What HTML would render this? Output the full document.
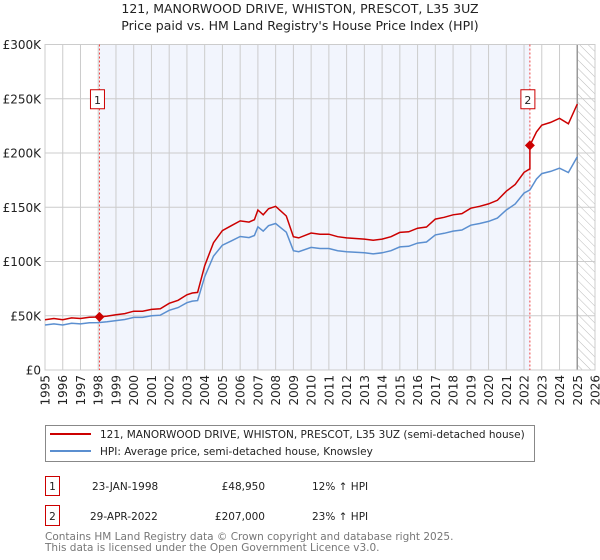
<!DOCTYPE html>
<html><head><meta charset="utf-8"><style>
body{margin:0;background:#fff;font-family:"DejaVu Sans","Liberation Sans",sans-serif;}
#wrap{position:relative;width:600px;height:560px;overflow:hidden;}
svg text{font-family:"DejaVu Sans","Liberation Sans",sans-serif;}
</style></head><body>
<div id="wrap">
<svg id="chart" width="600" height="560">
<defs><pattern id="hatch" width="6" height="6" patternUnits="userSpaceOnUse" patternTransform="rotate(-45)"><line x1="0" y1="0" x2="0" y2="6" stroke="#bbb" stroke-width="1"/></pattern></defs>
<text x="300" y="13" text-anchor="middle" font-size="12.5" fill="#222">121, MANORWOOD DRIVE, WHISTON, PRESCOT, L35 3UZ</text>
<text x="300" y="30" text-anchor="middle" font-size="12.5" fill="#222">Price paid vs. HM Land Registry's House Price Index (HPI)</text>
<g id="plot"></g>
<rect x="45.5" y="425.5" width="489" height="36" fill="#fff" stroke="#888"/>
<line x1="50" y1="434" x2="91" y2="434" stroke="#cc0000" stroke-width="2"/>
<text x="100" y="438" font-size="10.5" fill="#222">121, MANORWOOD DRIVE, WHISTON, PRESCOT, L35 3UZ (semi-detached house)</text>
<line x1="50" y1="451" x2="91" y2="451" stroke="#5b8fd0" stroke-width="2"/>
<text x="100" y="455" font-size="10.5" fill="#222">HPI: Average price, semi-detached house, Knowsley</text>
<g font-size="10.5" fill="#222">
<rect x="45.5" y="476.5" width="14" height="19" fill="#fff" stroke="#cc0000"/><text x="52.5" y="490" text-anchor="middle">1</text>
<text x="92" y="490">23-JAN-1998</text><text x="265" y="490" text-anchor="end">£48,950</text><text x="312" y="490">12% ↑ HPI</text></g>
<g font-size="10.5" fill="#222">
<rect x="45.5" y="505.5" width="14" height="20" fill="#fff" stroke="#cc0000"/><text x="52.5" y="520" text-anchor="middle">2</text>
<text x="90" y="520">29-APR-2022</text><text x="265" y="520" text-anchor="end">£207,000</text><text x="312" y="520">23% ↑ HPI</text></g>
<text font-size="10.5" fill="#777"><tspan x="45" y="540">Contains HM Land Registry data © Crown copyright and database right 2025.</tspan><tspan x="45" y="551">This data is licensed under the Open Government Licence v3.0.</tspan></text>
</svg>
</div>
<script>
const hpiYears=[1995,1995.5,1996,1996.5,1997,1997.5,1998,1998.5,1999,1999.5,2000,2000.5,2001,2001.5,2002,2002.5,2003,2003.3,2003.6,2004,2004.5,2005,2005.5,2006,2006.5,2006.8,2007,2007.3,2007.6,2008,2008.3,2008.6,2009,2009.3,2010,2010.5,2011,2011.5,2012,2012.5,2013,2013.5,2014,2014.5,2015,2015.5,2016,2016.5,2017,2017.5,2018,2018.5,2019,2019.5,2020,2020.5,2021,2021.5,2022,2022.33,2022.7,2023,2023.5,2024,2024.5,2025];
const hpiValues=[41.5,42.5,41.5,43,42.5,43.5,43.7,44.5,45.5,46.5,48.5,48.5,50,50.5,55,57.5,62,63.5,64,86,105,115,119,123,122,124,132,128,133,135,131,127,110,109,113,112,112,110,109,108.5,108,107,108,110,113.5,114,117,118,124.5,126,128,129,133.5,135,137,140,147.5,153,163,166,176,181,183,186,182,196.6];
const saleYears=[1998.07,2022.33];
const salePrices=[48.95,207];
const saleLabels=["1","2"];
const yTicks=[0,50,100,150,200,250,300];
const yTickLabels=["£0","£50K","£100K","£150K","£200K","£250K","£300K"];
const xTicks=[1995,1996,1997,1998,1999,2000,2001,2002,2003,2004,2005,2006,2007,2008,2009,2010,2011,2012,2013,2014,2015,2016,2017,2018,2019,2020,2021,2022,2023,2024,2025,2026];
const dataEnd=2025;

const X0=45,X1=595,Y0=370,Y1=44.5;
const xs=y=>X0+(y-1995)/(2026-1995)*(X1-X0);
const ys=v=>Y0-v/300*(Y0-Y1);
const NS="http://www.w3.org/2000/svg";
const g=document.getElementById('plot');
function mk(t,a){const e=document.createElementNS(NS,t);for(const k in a)e.setAttribute(k,a[k]);g.appendChild(e);return e;}
let e;
e=mk('rect',{x:xs(saleYears[0]),y:Y1,width:xs(saleYears[1])-xs(saleYears[0]),height:Y0-Y1,fill:'#f2f5fd'});


e=mk('rect',{x:xs(dataEnd),y:Y1,width:X1-xs(dataEnd),height:Y0-Y1,fill:'url(#hatch)'});


yTicks.forEach((t,i)=>{
 e=mk('line',{x1:X0,x2:X1,y1:ys(t),y2:ys(t),stroke:'#ccc'});
 
 
 e=mk('text',{x:X0-4,y:ys(t)+4.5,'text-anchor':'end','font-size':12,fill:'#222'});e.textContent=yTickLabels[i];
 
 
});
xTicks.forEach(t=>{
 e=mk('line',{x1:xs(t),x2:xs(t),y1:Y1,y2:Y0,stroke:'#ccc'});
 
 
 const tx=xs(t)+4.5,ty=Y0+5;
 e=mk('text',{x:tx,y:ty,transform:`rotate(-90 ${tx} ${ty})`,'text-anchor':'end','font-size':12,fill:'#222'});e.textContent=t;
 
 
});
e=mk('line',{x1:xs(dataEnd),x2:xs(dataEnd),y1:Y1,y2:Y0,stroke:'#999','stroke-width':1.5});


e=mk('rect',{x:X0,y:Y1,width:X1-X0,height:Y0-Y1,fill:'none',stroke:'#ccc'});


function hpiAt(y){for(let i=1;i<hpiYears.length;i++){if(y<=hpiYears[i]){const f=(y-hpiYears[i-1])/(hpiYears[i]-hpiYears[i-1]);return hpiValues[i-1]+f*(hpiValues[i]-hpiValues[i-1]);}}return hpiValues[hpiValues.length-1];}
const r1=salePrices[0]/hpiAt(saleYears[0]),r2=salePrices[1]/hpiAt(saleYears[1]);
saleYears.forEach((s,i)=>{
 e=mk('line',{x1:xs(s),x2:xs(s),y1:Y1,y2:Y0,stroke:'#ee4444','stroke-dasharray':'2,2'});
 
 
 const by=ys(250)-9;
 e=mk('rect',{x:xs(s)-9,y:by,width:14,height:19,fill:'#fff',stroke:'#cc0000'});
 
 
 e=mk('text',{x:xs(s)-2,y:by+14,'text-anchor':'middle','font-size':11,fill:'#222'});e.textContent=saleLabels[i];
 
 
});
const hp=hpiYears.map((y,i)=>`${xs(y).toFixed(1)},${ys(hpiValues[i]).toFixed(1)}`).join(' ');
e=mk('polyline',{points:hp,fill:'none',stroke:'#5b8fd0','stroke-width':1.5});


const rp=[];
hpiYears.forEach((y,i)=>{
 if(y<saleYears[1])rp.push([y,hpiValues[i]*r1]);
});
rp.push([saleYears[1],hpiAt(saleYears[1])*r1]);
rp.push([saleYears[1],salePrices[1]]);
hpiYears.forEach((y,i)=>{if(y>saleYears[1])rp.push([y,hpiValues[i]*r2]);});
e=mk('polyline',{points:rp.map(p=>`${xs(p[0]).toFixed(1)},${ys(p[1]).toFixed(1)}`).join(' '),fill:'none',stroke:'#cc0000','stroke-width':1.5});


saleYears.forEach((s,i)=>{
 const cx=xs(s),cy=ys(salePrices[i]);
 e=mk('polygon',{points:`${cx},${cy-5} ${cx+5},${cy} ${cx},${cy+5} ${cx-5},${cy}`,fill:'#cc0000'});
 
 
});
</script>
</body></html>
